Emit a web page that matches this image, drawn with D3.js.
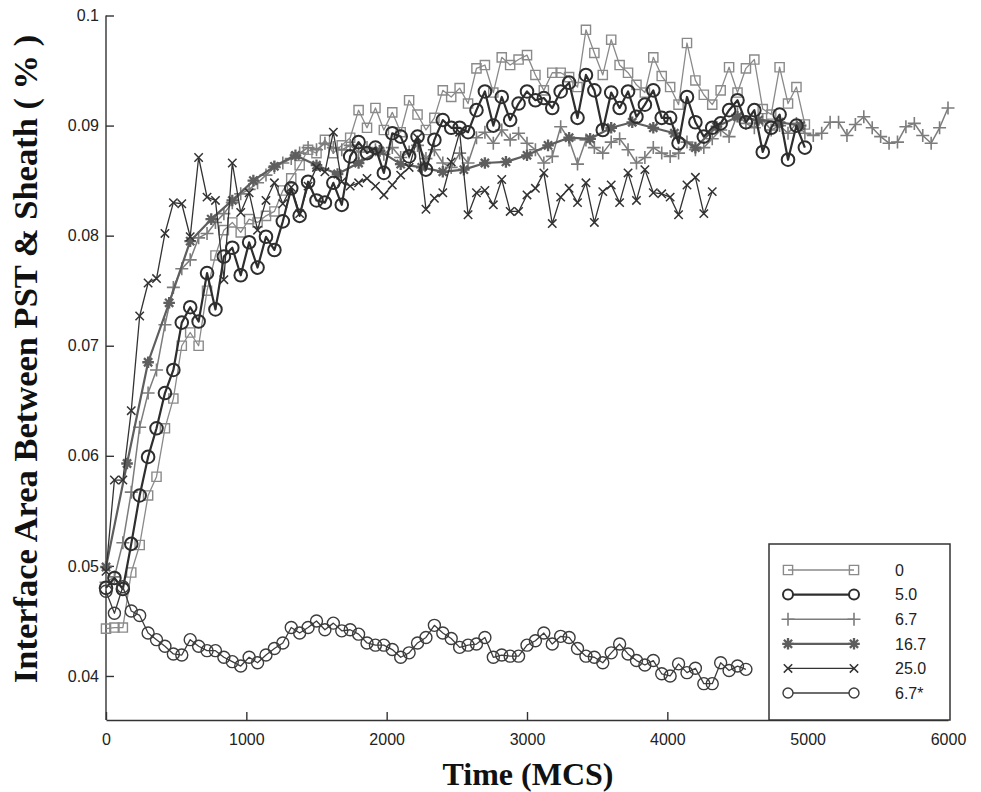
<!doctype html>
<html>

<head>
  <meta charset="UTF-8" />
  <title>Interface area between PST and sheath</title>
  <style>
    html,
    body {
      margin: 0;
      background: #fff;
    }

    svg {
      display: block;
    }

    .tick text {
      font-family: "Liberation Sans", Arial, sans-serif;
      font-size: 16px;
      fill: #222;
    }

    .axis-title {
      font-family: "Liberation Serif", "Times New Roman", serif;
      font-weight: bold;
      fill: #111;
    }

    .legend text {
      font-family: "Liberation Sans", Arial, sans-serif;
      font-size: 16px;
      fill: #222;
    }
  </style>
</head>

<body>
  <script src="https://cdn.jsdelivr.net/npm/d3@7/dist/d3.min.js"></script>
  <script>
    // data
    const step = 60;        // MCS between samples
    const step167 = 150;    // the 16.7 run was sampled less often

    const s0 = [
      0.0443, 0.0444, 0.0444, 0.0494, 0.0519, 0.0564, 0.0581, 0.0625, 0.0652, 0.0700,
      0.0712, 0.0700, 0.0750, 0.0782, 0.0805, 0.0812, 0.0803, 0.0815, 0.0812, 0.0818,
      0.0822, 0.0841, 0.0852, 0.0864, 0.0878, 0.0875, 0.0887, 0.0875, 0.0882, 0.0889,
      0.0914, 0.0898, 0.0916, 0.0896, 0.0912, 0.0894, 0.0923, 0.0910, 0.0896, 0.0907,
      0.0932, 0.0926, 0.0934, 0.0920, 0.0952, 0.0955, 0.0930, 0.0962, 0.0955, 0.0960,
      0.0964, 0.0946, 0.0932, 0.0948, 0.0948, 0.0944, 0.0935, 0.0987, 0.0966, 0.0946,
      0.0978, 0.0955, 0.0948, 0.0937, 0.0930, 0.0962, 0.0945, 0.0935, 0.0919, 0.0975,
      0.0941, 0.0928, 0.0919, 0.0932, 0.0953, 0.0930, 0.0952, 0.0960, 0.0915, 0.0910,
      0.0953, 0.0920, 0.0935, 0.0901
    ];

    const s50 = [
      0.0480, 0.0489, 0.0479, 0.0520, 0.0564, 0.0599, 0.0625, 0.0657, 0.0678, 0.0721,
      0.0735, 0.0722, 0.0766, 0.0733, 0.0781, 0.0789, 0.0764, 0.0794, 0.0771, 0.0799,
      0.0787, 0.0813, 0.0843, 0.0818, 0.0849, 0.0832, 0.0830, 0.0848, 0.0828, 0.0872,
      0.0885, 0.0875, 0.0880, 0.0857, 0.0893, 0.0890, 0.0872, 0.0890, 0.0860, 0.0887,
      0.0905, 0.0898, 0.0898, 0.0894, 0.0914, 0.0931, 0.0900, 0.0926, 0.0905, 0.0920,
      0.0931, 0.0923, 0.0925, 0.0916, 0.0931, 0.0939, 0.0907, 0.0946, 0.0932, 0.0896,
      0.0930, 0.0916, 0.0931, 0.0908, 0.0919, 0.0932, 0.0907, 0.0907, 0.0884, 0.0926,
      0.0903, 0.0890, 0.0898, 0.0902, 0.0914, 0.0923, 0.0903, 0.0914, 0.0876, 0.0898,
      0.0910, 0.0869, 0.0900, 0.0880
    ];

    const s67 = [
      0.0485, 0.0490, 0.0521, 0.0567, 0.0626, 0.0657, 0.0678, 0.0719, 0.0753, 0.0770,
      0.0778, 0.0798, 0.0802, 0.0812, 0.0820, 0.0830, 0.0838, 0.0842, 0.0848, 0.0855,
      0.0862, 0.0866, 0.0870, 0.0875, 0.0880, 0.0878, 0.0884, 0.0880, 0.0878, 0.0882,
      0.0876, 0.0880, 0.0878, 0.0874, 0.0880, 0.0871, 0.0876, 0.0882, 0.0870, 0.0878,
      0.0866, 0.0862, 0.0875, 0.0866, 0.0889, 0.0894, 0.0884, 0.0896, 0.0887, 0.0893,
      0.0884, 0.0878, 0.0866, 0.0872, 0.0899, 0.0887, 0.0865, 0.0887, 0.0880, 0.0875,
      0.0885, 0.0888, 0.0878, 0.0866, 0.0871, 0.0880, 0.0875, 0.0872, 0.0875, 0.0885,
      0.0878, 0.0880, 0.0888, 0.0896, 0.0890, 0.0910, 0.0902, 0.0898, 0.0905, 0.0896,
      0.0900, 0.0893, 0.0902, 0.0893, 0.0891, 0.0893, 0.0903, 0.0903, 0.0891, 0.0901,
      0.0908, 0.0898, 0.0890, 0.0884, 0.0885, 0.0899, 0.0902, 0.0891, 0.0884, 0.0898,
      0.0916
    ];

    const s167 = [
      0.0499, 0.0593, 0.0685, 0.0739, 0.0795, 0.0815, 0.0832, 0.0850, 0.0863, 0.0873,
      0.0864, 0.0856, 0.0866, 0.0877, 0.0865, 0.0862, 0.0858, 0.0860, 0.0866, 0.0867,
      0.0873, 0.0882, 0.0889, 0.0888, 0.0898, 0.0903, 0.0898, 0.0893, 0.0880, 0.0899,
      0.0908, 0.0905, 0.0903, 0.0900
    ];

    const s250 = [
      0.0495, 0.0578, 0.0578, 0.0641, 0.0727, 0.0757, 0.0761, 0.0802, 0.0830, 0.0829,
      0.0799, 0.0871, 0.0835, 0.0832, 0.0760, 0.0866, 0.0821, 0.0839, 0.0805, 0.0832,
      0.0848, 0.0829, 0.0844, 0.0820, 0.0845, 0.0862, 0.0858, 0.0894, 0.0849, 0.0845,
      0.0848, 0.0852, 0.0845, 0.0837, 0.0846, 0.0855, 0.0862, 0.0889, 0.0824, 0.0834,
      0.0839, 0.0867, 0.0894, 0.0819, 0.0839, 0.0841, 0.0828, 0.0851, 0.0822, 0.0822,
      0.0837, 0.0843, 0.0857, 0.0811, 0.0835, 0.0843, 0.0830, 0.0848, 0.0812, 0.0840,
      0.0846, 0.0830, 0.0857, 0.0832, 0.0860, 0.0839, 0.0838, 0.0835, 0.0819, 0.0846,
      0.0853, 0.0820, 0.0840
    ];

    const s67star = [
      0.0477, 0.0457, 0.0481, 0.0459, 0.0455, 0.0439, 0.0433, 0.0427, 0.0420, 0.0419,
      0.0433, 0.0427, 0.0423, 0.0423, 0.0417, 0.0413, 0.0409, 0.0417, 0.0412, 0.0419,
      0.0425, 0.0430, 0.0444, 0.0439, 0.0444, 0.0450, 0.0442, 0.0448, 0.0441, 0.0442,
      0.0438, 0.0430, 0.0428, 0.0428, 0.0424, 0.0417, 0.0421, 0.0430, 0.0435, 0.0446,
      0.0439, 0.0434, 0.0426, 0.0428, 0.0429, 0.0435, 0.0417, 0.0419, 0.0418, 0.0418,
      0.0428, 0.0432, 0.0439, 0.0429, 0.0436, 0.0435, 0.0425, 0.0418, 0.0417, 0.0412,
      0.0421, 0.0429, 0.0420, 0.0414, 0.0410, 0.0414, 0.0402, 0.0400, 0.0411, 0.0403,
      0.0407, 0.0393, 0.0393, 0.0412, 0.0405, 0.0409, 0.0406
    ];

    const xTicks = [0, 1000, 2000, 3000, 4000, 5000, 6000];
    const yTicks = [0.04, 0.05, 0.06, 0.07, 0.08, 0.09, 0.1];
    const yTickLabels = ["0.04", "0.05", "0.06", "0.07", "0.08", "0.09", "0.1"];

    // series: label, values, sample step, marker, look
    const series = [
      { name: "0", values: s0, step: step, marker: "square", color: "#8a8a8a", width: 1.3, size: 4.6, mw: 1.4 },
      { name: "6.7", values: s67, step: step, marker: "plus", color: "#7c7c7c", width: 1.5, size: 6.5, mw: 1.6 },
      { name: "16.7", values: s167, step: step167, marker: "star", color: "#5e5e5e", width: 2.2, size: 5.8, mw: 2.3 },
      { name: "25.0", values: s250, step: step, marker: "cross", color: "#333", width: 1.3, size: 4.2, mw: 1.5 },
      { name: "5.0", values: s50, step: step, marker: "circle", color: "#2e2e2e", width: 2.2, size: 6.3, mw: 2 },
      { name: "6.7*", values: s67star, step: step, marker: "circle", color: "#3c3c3c", width: 1.3, size: 6, mw: 1.4 }
    ];
    const legendOrder = ["0", "5.0", "6.7", "16.7", "25.0", "6.7*"];

    // view
    const width = 981, height = 792;
    const svg = d3.select("body").append("svg")
      .attr("width", width)
      .attr("height", height);

    const x = d3.scaleLinear().domain([0, 6000]).range([106, 948]);
    const y = d3.scaleLinear().domain([0.036, 0.1]).range([720, 15.5]);

    function markerPath(type, r) {
      const p = d3.path();
      if (type === "square") {
        p.rect(-r, -r, 2 * r, 2 * r);
      } else if (type === "circle") {
        p.arc(0, 0, r, 0, 2 * Math.PI);
      } else if (type === "plus") {
        p.moveTo(-r, 0); p.lineTo(r, 0);
        p.moveTo(0, -r); p.lineTo(0, r);
      } else if (type === "cross") {
        p.moveTo(-r, -r); p.lineTo(r, r);
        p.moveTo(-r, r); p.lineTo(r, -r);
      } else if (type === "star") {
        for (let k = 0; k < 4; k++) {
          const a = k * Math.PI / 4;
          p.moveTo(-r * Math.cos(a), -r * Math.sin(a));
          p.lineTo(r * Math.cos(a), r * Math.sin(a));
        }
      }
      return p.toString();
    }

    // axes (ticks point inward)
    const yAxis = d3.axisLeft(y)
      .tickValues(yTicks)
      .tickFormat((d, i) => yTickLabels[i])
      .tickSizeInner(-8)
      .tickSizeOuter(0)
      .tickPadding(7);

    const xAxis = d3.axisBottom(x)
      .tickValues(xTicks)
      .tickFormat(d3.format("d"))
      .tickSizeInner(-8)
      .tickSizeOuter(0)
      .tickPadding(14);

    const gy = svg.append("g")
      .attr("transform", `translate(${x(0)},0)`)
      .call(yAxis);
    gy.select(".domain").attr("d", `M0,${y(0.1)}V${y.range()[0]}`);

    const gx = svg.append("g")
      .attr("transform", `translate(0,${y.range()[0]})`)
      .call(xAxis);

    svg.selectAll(".domain, .tick line")
      .attr("stroke", "#333")
      .attr("stroke-width", 1.4);

    // series lines and markers
    const line = d3.line()
      .x(d => x(d[0]))
      .y(d => y(d[1]));

    series.forEach(s => {
      const pts = s.values.map((v, i) => [i * s.step, v]);
      const g = svg.append("g").attr("class", "series");

      g.append("path")
        .datum(pts)
        .attr("d", line)
        .attr("fill", "none")
        .attr("stroke", s.color)
        .attr("stroke-width", s.width)
        .attr("stroke-linejoin", "round");

      g.selectAll("path.mark")
        .data(pts)
        .join("path")
        .attr("class", "mark")
        .attr("transform", d => `translate(${x(d[0])},${y(d[1])})`)
        .attr("d", markerPath(s.marker, s.size))
        .attr("fill", "none")
        .attr("stroke", s.color)
        .attr("stroke-width", s.mw);
    });

    // legend box sits on the x axis
    const legend = svg.append("g").attr("class", "legend");
    legend.append("rect")
      .attr("x", 769).attr("y", 544)
      .attr("width", 181).attr("height", 176)
      .attr("fill", "#fff")
      .attr("stroke", "#333")
      .attr("stroke-width", 1.5);

    legendOrder.forEach((name, i) => {
      const s = series.find(d => d.name === name);
      const ly = 570 + i * 24.6;
      const row = legend.append("g");
      row.append("line")
        .attr("x1", 788).attr("x2", 854)
        .attr("y1", ly).attr("y2", ly)
        .attr("stroke", s.color)
        .attr("stroke-width", s.width);
      [788, 854].forEach(mx => {
        row.append("path")
          .attr("transform", `translate(${mx},${ly})`)
          .attr("d", markerPath(s.marker, s.marker === "circle" ? 5 : s.size))
          .attr("fill", s.marker === "circle" ? "#fff" : "none")
          .attr("stroke", s.color)
          .attr("stroke-width", s.mw);
      });
      row.append("text")
        .attr("x", 895)
        .attr("y", ly)
        .attr("dy", "0.36em")
        .text(name);
    });

    // axis titles
    svg.append("text")
      .attr("class", "axis-title")
      .attr("transform", "translate(37,359) rotate(-90)")
      .attr("text-anchor", "middle")
      .style("font-size", "34.5px")
      .text("Interface Area Between PST & Sheath ( % )");

    svg.append("text")
      .attr("class", "axis-title")
      .attr("x", 528)
      .attr("y", 785)
      .attr("text-anchor", "middle")
      .style("font-size", "32px")
      .text("Time (MCS)");
  </script>
</body>

</html>
